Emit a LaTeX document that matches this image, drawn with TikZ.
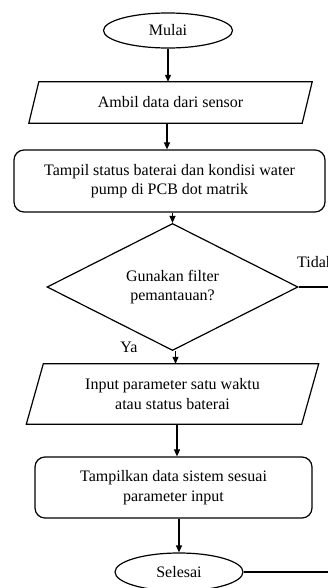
\documentclass[tikz,border=0pt]{standalone}
\usepackage{fontspec}
\setmainfont{Liberation Serif}
\usetikzlibrary{shapes.geometric,arrows.meta}
\begin{document}
\begin{tikzpicture}[x=1pt,y=-1pt,
  every node/.style={font=\fontsize{16}{19.5}\selectfont, align=center, inner sep=0pt},
  line/.style={line width=1.2pt},
  arr/.style={line, -{Triangle[length=7pt,width=6pt]}},
  term/.style={ellipse, draw, line width=1.2pt},
  proc/.style={rectangle, rounded corners=10pt, draw, line width=1.2pt},
  io/.style={rectangle},
  dec/.style={diamond, draw, line width=1.2pt},
  lab/.style={font=\fontsize{16}{19.5}\selectfont}
]
\useasboundingbox (0,0) rectangle (327,588);

\node[term, minimum width=129pt, minimum height=35pt] (mulai) at (168,30.5) {Mulai};

\node[io, minimum width=273pt, minimum height=41pt] (ambil) at (170.5,102.5) {Ambil data dari sensor};
\draw[line] ([xshift=5pt]ambil.north west) -- ([xshift=5pt]ambil.north east)
  -- ([xshift=-5pt]ambil.south east) -- ([xshift=-5pt]ambil.south west) -- cycle;

\node[proc, minimum width=311pt, minimum height=62pt] (tampil) at (169.5,181)
  {Tampil status baterai dan kondisi water\\pump di PCB dot matrik};

\node[dec, minimum width=251pt, minimum height=97pt] (cek) at (172.5,287)
  {Gunakan filter\\pemantauan?};

\node[io, minimum width=275pt, minimum height=60pt] (input) at (172.5,394)
  {Input parameter satu waktu\\atau status baterai};
\draw[line] ([xshift=8.5pt]input.north west) -- ([xshift=8.5pt]input.north east)
  -- ([xshift=-8.5pt]input.south east) -- ([xshift=-8.5pt]input.south west) -- cycle;

\node[proc, minimum width=277pt, minimum height=61pt] (tampilkan) at (173.5,487.5)
  {Tampilkan data sistem sesuai\\parameter input};

\node[term, minimum width=128pt, minimum height=38pt] (selesai) at (179,572) {Selesai};

\node[lab, anchor=west] (tidak) at (297,262) {Tidak};
\node[lab] (ya) at (129,347) {Ya};

\coordinate (tEnd) at (330,287);
\coordinate (sEnd) at (330,572);

\draw[arr] (mulai.south) -- (mulai.south |- ambil.north);
\draw[arr] ([xshift=-3.5pt]ambil.south) -- ([xshift=-3.5pt]ambil.south |- tampil.north);
\draw[arr] (tampil.south -| cek.north) -- (cek.north);
\draw[arr] ([xshift=3pt]cek.south) -- ([xshift=3pt]cek.south |- input.north);
\draw[arr] ([xshift=4.5pt]input.south) -- ([xshift=4.5pt]input.south |- tampilkan.north);
\draw[arr] (tampilkan.south -| selesai.north) -- (selesai.north);
\draw[line] (cek.east) -- (tEnd);
\draw[line] (selesai.east) -- (sEnd);
\end{tikzpicture}
\end{document}
